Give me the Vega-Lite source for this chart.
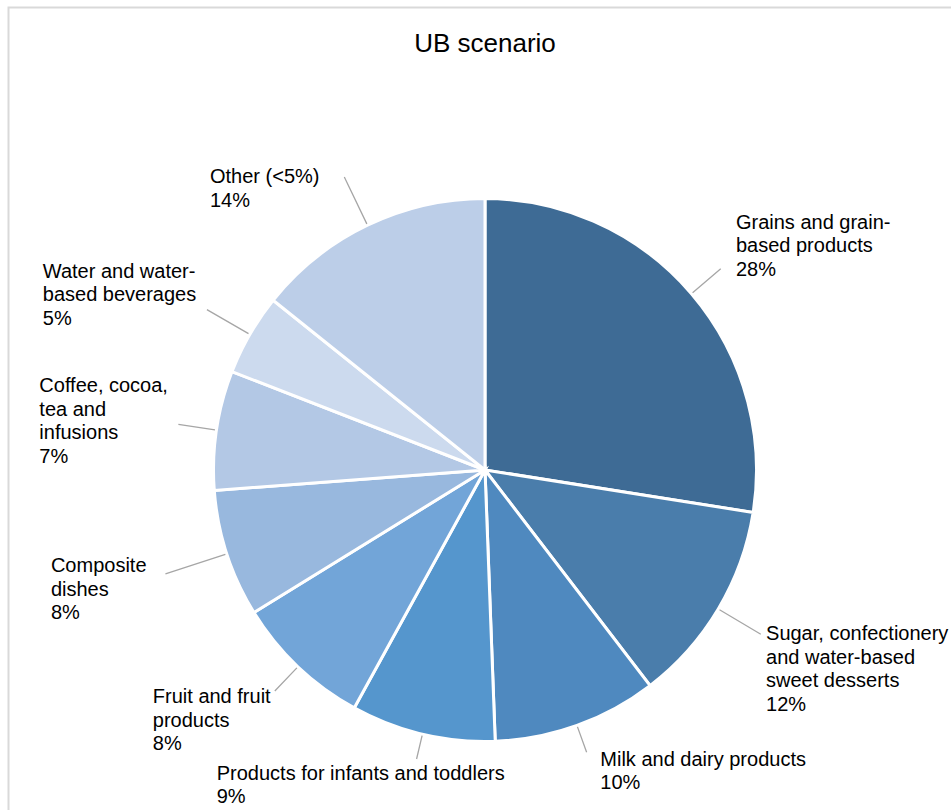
{
  "$schema": "https://vega.github.io/schema/vega-lite/v6.json",
  "width": 953,
  "height": 925,
  "autosize": {"type": "none"},
  "padding": {"left": 8.5, "top": 7.5, "right": -10.5, "bottom": -122.5},
  "background": "white",
  "title": {"text": "UB scenario", "fontSize": 26, "font": "Liberation Sans", "fontWeight": "normal", "color": "#000000", "anchor": "middle", "frame": "group", "baseline": "alphabetic", "offset": -71},
  "config": {"view": {"stroke": null}},
  "datasets": {
    "shares": [
      {"order": 1, "key": "grains", "cat": "Grains and grain-based products", "value": 27.5, "label": "Grains and grain-\nbased products\n28%"},
      {"order": 2, "key": "sugar", "cat": "Sugar, confectionery and water-based sweet desserts", "value": 12.1, "label": "Sugar, confectionery\nand water-based\nsweet desserts\n12%"},
      {"order": 3, "key": "milk", "cat": "Milk and dairy products", "value": 9.8, "label": "Milk and dairy products\n10%"},
      {"order": 4, "key": "infants", "cat": "Products for infants and toddlers", "value": 8.6, "label": "Products for infants and toddlers\n9%"},
      {"order": 5, "key": "fruit", "cat": "Fruit and fruit products", "value": 8.2, "label": "Fruit and fruit\nproducts\n8%"},
      {"order": 6, "key": "composite", "cat": "Composite dishes", "value": 7.6, "label": "Composite\ndishes\n8%"},
      {"order": 7, "key": "coffee", "cat": "Coffee, cocoa, tea and infusions", "value": 7.1, "label": "Coffee, cocoa,\ntea and\ninfusions\n7%"},
      {"order": 8, "key": "water", "cat": "Water and water-based beverages", "value": 4.85, "label": "Water and water-\nbased beverages\n5%"},
      {"order": 9, "key": "other", "cat": "Other (<5%)", "value": 14.25, "label": "Other (<5%)\n14%"}
    ],
    "frame": [{"name": "chart area"}]
  },
  "layer": [
    {"data": {"name": "frame"},
     "mark": {"type": "rect", "filled": false, "stroke": "#d9d9d9", "strokeWidth": 2},
     "encoding": {}},
    {"data": {"name": "shares"},
     "layer": [
      {"mark": {"type": "arc", "outerRadius": 271.5, "stroke": "#ffffff", "strokeWidth": 3},
       "encoding": {"theta": {"field": "value", "type": "quantitative", "stack": true}, "order": {"field": "order", "type": "quantitative"},
         "color": {"field": "cat", "type": "nominal", "legend": null,
         "scale": {"domain": ["Grains and grain-based products", "Sugar, confectionery and water-based sweet desserts", "Milk and dairy products", "Products for infants and toddlers", "Fruit and fruit products", "Composite dishes", "Coffee, cocoa, tea and infusions", "Water and water-based beverages", "Other (<5%)"],
                   "range": ["#3e6b95", "#4a7dab", "#4f89bf", "#5596cd", "#72a5d8", "#98b8de", "#b3c8e5", "#ccdaee", "#bccee8"]}}}},
      {"mark": {"type": "arc", "innerRadius": 273, "outerRadius": 310, "padAngle": 3, "filled": false, "stroke": "#a6a6a6", "strokeWidth": 1.3},
       "encoding": {"theta": {"field": "value", "type": "quantitative", "stack": true}, "order": {"field": "order", "type": "quantitative"}, "strokeOpacity": {"condition": {"test": "datum.key === 'grains' || datum.key === 'coffee'", "value": 1}, "value": 0}}},
      {"mark": {"type": "arc", "innerRadius": 273, "outerRadius": 321, "padAngle": 3, "filled": false, "stroke": "#a6a6a6", "strokeWidth": 1.3},
       "encoding": {"theta": {"field": "value", "type": "quantitative", "stack": true}, "order": {"field": "order", "type": "quantitative"}, "strokeOpacity": {"condition": {"test": "datum.key === 'sugar' || datum.key === 'water'", "value": 1}, "value": 0}}},
      {"mark": {"type": "arc", "innerRadius": 273, "outerRadius": 300, "padAngle": 3, "filled": false, "stroke": "#a6a6a6", "strokeWidth": 1.3},
       "encoding": {"theta": {"field": "value", "type": "quantitative", "stack": true}, "order": {"field": "order", "type": "quantitative"}, "strokeOpacity": {"condition": {"test": "datum.key === 'milk'", "value": 1}, "value": 0}}},
      {"mark": {"type": "arc", "innerRadius": 273, "outerRadius": 297, "padAngle": 3, "filled": false, "stroke": "#a6a6a6", "strokeWidth": 1.3},
       "encoding": {"theta": {"field": "value", "type": "quantitative", "stack": true}, "order": {"field": "order", "type": "quantitative"}, "strokeOpacity": {"condition": {"test": "datum.key === 'infants'", "value": 1}, "value": 0}}},
      {"mark": {"type": "arc", "innerRadius": 273, "outerRadius": 305, "padAngle": 3, "filled": false, "stroke": "#a6a6a6", "strokeWidth": 1.3},
       "encoding": {"theta": {"field": "value", "type": "quantitative", "stack": true}, "order": {"field": "order", "type": "quantitative"}, "strokeOpacity": {"condition": {"test": "datum.key === 'fruit'", "value": 1}, "value": 0}}},
      {"mark": {"type": "arc", "innerRadius": 273, "outerRadius": 336, "padAngle": 3, "filled": false, "stroke": "#a6a6a6", "strokeWidth": 1.3},
       "encoding": {"theta": {"field": "value", "type": "quantitative", "stack": true}, "order": {"field": "order", "type": "quantitative"}, "strokeOpacity": {"condition": {"test": "datum.key === 'composite'", "value": 1}, "value": 0}}},
      {"mark": {"type": "arc", "innerRadius": 273, "outerRadius": 325, "padAngle": 3, "filled": false, "stroke": "#a6a6a6", "strokeWidth": 1.3},
       "encoding": {"theta": {"field": "value", "type": "quantitative", "stack": true}, "order": {"field": "order", "type": "quantitative"}, "strokeOpacity": {"condition": {"test": "datum.key === 'other'", "value": 1}, "value": 0}}},
      {"mark": {"type": "text", "radius": 305, "align": "left", "baseline": "alphabetic", "dx": 19, "dy": -43, "font": "Liberation Sans", "fontSize": 20, "lineBreak": "\n", "lineHeight": 23.5, "color": "#000000"},
       "encoding": {"theta": {"field": "value", "type": "quantitative", "stack": true}, "order": {"field": "order", "type": "quantitative"}, "text": {"condition": {"test": "datum.key === 'grains'", "field": "label"}, "value": ""}}},
      {"mark": {"type": "text", "radius": 305, "align": "left", "baseline": "alphabetic", "dx": 19, "dy": 14, "font": "Liberation Sans", "fontSize": 20, "lineBreak": "\n", "lineHeight": 23.5, "color": "#000000"},
       "encoding": {"theta": {"field": "value", "type": "quantitative", "stack": true}, "order": {"field": "order", "type": "quantitative"}, "text": {"condition": {"test": "datum.key === 'sugar'", "field": "label"}, "value": ""}}},
      {"mark": {"type": "text", "radius": 305, "align": "left", "baseline": "alphabetic", "dx": 12, "dy": 9, "font": "Liberation Sans", "fontSize": 20, "lineBreak": "\n", "lineHeight": 23.5, "color": "#000000"},
       "encoding": {"theta": {"field": "value", "type": "quantitative", "stack": true}, "order": {"field": "order", "type": "quantitative"}, "text": {"condition": {"test": "datum.key === 'milk'", "field": "label"}, "value": ""}}},
      {"mark": {"type": "text", "radius": 305, "align": "left", "baseline": "alphabetic", "dx": -198, "dy": 13, "font": "Liberation Sans", "fontSize": 20, "lineBreak": "\n", "lineHeight": 23.5, "color": "#000000"},
       "encoding": {"theta": {"field": "value", "type": "quantitative", "stack": true}, "order": {"field": "order", "type": "quantitative"}, "text": {"condition": {"test": "datum.key === 'infants'", "field": "label"}, "value": ""}}},
      {"mark": {"type": "text", "radius": 305, "align": "left", "baseline": "alphabetic", "dx": -122, "dy": 12, "font": "Liberation Sans", "fontSize": 20, "lineBreak": "\n", "lineHeight": 23.5, "color": "#000000"},
       "encoding": {"theta": {"field": "value", "type": "quantitative", "stack": true}, "order": {"field": "order", "type": "quantitative"}, "text": {"condition": {"test": "datum.key === 'fruit'", "field": "label"}, "value": ""}}},
      {"mark": {"type": "text", "radius": 305, "align": "left", "baseline": "alphabetic", "dx": -144, "dy": 8, "font": "Liberation Sans", "fontSize": 20, "lineBreak": "\n", "lineHeight": 23.5, "color": "#000000"},
       "encoding": {"theta": {"field": "value", "type": "quantitative", "stack": true}, "order": {"field": "order", "type": "quantitative"}, "text": {"condition": {"test": "datum.key === 'composite'", "field": "label"}, "value": ""}}},
      {"mark": {"type": "text", "radius": 305, "align": "left", "baseline": "alphabetic", "dx": -144, "dy": -33, "font": "Liberation Sans", "fontSize": 20, "lineBreak": "\n", "lineHeight": 23.5, "color": "#000000"},
       "encoding": {"theta": {"field": "value", "type": "quantitative", "stack": true}, "order": {"field": "order", "type": "quantitative"}, "text": {"condition": {"test": "datum.key === 'coffee'", "field": "label"}, "value": ""}}},
      {"mark": {"type": "text", "radius": 305, "align": "left", "baseline": "alphabetic", "dx": -178, "dy": -40, "font": "Liberation Sans", "fontSize": 20, "lineBreak": "\n", "lineHeight": 23.5, "color": "#000000"},
       "encoding": {"theta": {"field": "value", "type": "quantitative", "stack": true}, "order": {"field": "order", "type": "quantitative"}, "text": {"condition": {"test": "datum.key === 'water'", "field": "label"}, "value": ""}}},
      {"mark": {"type": "text", "radius": 305, "align": "left", "baseline": "alphabetic", "dx": -143, "dy": -12, "font": "Liberation Sans", "fontSize": 20, "lineBreak": "\n", "lineHeight": 23.5, "color": "#000000"},
       "encoding": {"theta": {"field": "value", "type": "quantitative", "stack": true}, "order": {"field": "order", "type": "quantitative"}, "text": {"condition": {"test": "datum.key === 'other'", "field": "label"}, "value": ""}}}
     ]}
  ]
}
